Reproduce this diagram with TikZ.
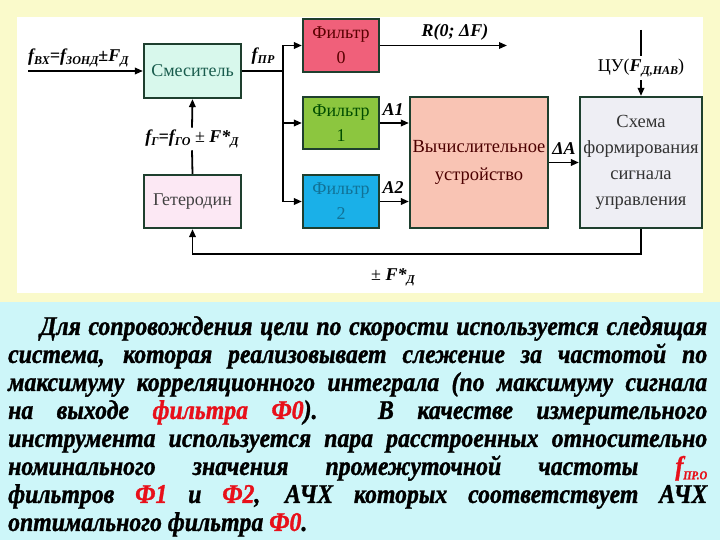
\documentclass[tikz,border=0pt]{standalone}
\usepackage{fontspec}
\setmainfont{Liberation Serif}
\newfontfamily\condbi{Liberation Serif Bold Italic}[FakeStretch=0.88, FakeBold=1.2]
\usetikzlibrary{arrows.meta}
\definecolor{bgyellow}{HTML}{FAFACB}
\definecolor{bgcyan}{HTML}{CDF6F9}
\definecolor{bord}{HTML}{1E3F2E}
\definecolor{cmix}{HTML}{D8F8EC}
\definecolor{cf0}{HTML}{F0607A}
\definecolor{cf1}{HTML}{8CC63F}
\definecolor{cf2}{HTML}{1AB0E8}
\definecolor{ccomp}{HTML}{F9C4B4}
\definecolor{csch}{HTML}{EEEEF4}
\definecolor{chet}{HTML}{FCE8F4}
\definecolor{tred}{HTML}{E8101A}
\newcommand{\sbs}[1]{\raisebox{-0.35ex}{\fontsize{12}{13}\selectfont #1}}
\tikzset{
  blk/.style={draw=bord, line width=2.2pt, inner sep=0pt, align=center,
    font=\fontsize{18}{25}\selectfont},
  conn/.style={line width=1.8pt, black},
  arr/.style={conn, -{Triangle[length=8pt,width=6.5pt]}},
  lbl/.style={inner sep=0pt, font=\fontsize{18}{20}\selectfont\bfseries\itshape},
}
\begin{document}
\begin{tikzpicture}[x=1pt,y=-1pt]
\useasboundingbox (0,0) rectangle (720,540);
\fill[bgyellow] (0,0) rectangle (720,302);
\fill[white] (17,17) rectangle (703,293);
\fill[bgcyan] (0,302) rectangle (720,540);

% blocks
\node[blk, fill=cmix, minimum width=97pt, minimum height=54pt, text=bord!85!cyan] (mix) at (192.5,71) {Смеситель};
\node[blk, fill=chet, minimum width=97pt, minimum height=53pt, text=black!75] (het) at (192.5,201.5) {Гетеродин};
\node[blk, fill=cf0, minimum width=76pt, minimum height=53pt, text=black!65!red] (f0) at (341,45.5) {Фильтр\\0};
\node[blk, fill=cf1, minimum width=76pt, minimum height=52pt, text=black!70!green] (f1) at (341,123) {Фильтр\\1};
\node[blk, fill=cf2, minimum width=76pt, minimum height=53pt, text=black!35!cf2] (f2) at (341,201.5) {Фильтр\\2};
\node[blk, fill=ccomp, minimum width=138pt, minimum height=131pt, text=black!70!red, font=\fontsize{18.5}{28}\selectfont] (comp) at (479,162.5) {Вычислительное\\устройство};
\node[blk, fill=csch, minimum width=122pt, minimum height=131pt, text=black!80, font=\fontsize{18.5}{26}\selectfont] (sch) at (641,162.5) {Схема\\формирования\\сигнала\\управления};

% coordinates
\coordinate (in) at (28,71);
\coordinate (bj) at (283,71);
\coordinate (b1) at (283,123);
\coordinate (rout) at (507,45.5);
\coordinate (cutop) at (641,30);
\coordinate (fbr) at (641,254);
\coordinate (fbl) at (192.5,254);

% labels
\node[lbl, anchor=base west] (lin) at (28,62) {f\sbs{ВХ}=f\sbs{ЗОНД}±F\sbs{Д}};
\node[lbl] (lpr) at (263,56) {f\sbs{ПР}};
\node[lbl] (lr) at (455,32) {R(0; ΔF)};
\node[lbl] (la1) at (393,110) {A1};
\node[lbl] (la2) at (393,188) {A2};
\node[lbl] (lda) at (564,149) {ΔA};
\node[lbl] (lfb) at (393,277) {{\mdseries\upshape ±} F*\sbs{Д}};
\node[lbl, inner sep=2pt] (lfg) at (192,139) {f\sbs{Г}=f\sbs{ГО} {\mdseries\upshape ±} F*\sbs{Д}};
\node[inner sep=3pt, font=\fontsize{18}{20}\selectfont] (cu) at (641,68) {ЦУ(\textbf{\textit{F}}\sbs{\textbf{\textit{Д,НАВ}}})};

% connectors
\draw[arr] (in) -- (mix.west);
\draw[arr] (mix.east) -- (bj) |- (f0.west);
\draw[arr] (bj) |- (f2.west);
\draw[arr] (b1) -- (f1.west);
\draw[arr] (f0.east) -- (rout);
\draw[arr] (f1.east) -- (f1.east -| comp.west);
\draw[arr] (f2.east) -- (f2.east -| comp.west);
\draw[arr] (comp.east) -- (sch.west);
\draw[conn] (cutop) -- (cu.north);
\draw[arr] (cu.south) -- (sch.north);
\draw[arr] (sch.south) -- (fbr) -- (fbl) -- (het.south);
\draw[conn] (het.north) -- (lfg.south);
\draw[arr] (lfg.north) -- (mix.south);

% bottom text
\node[anchor=north west, inner sep=0pt, text width=699pt, align=justify,
  font=\condbi\fontsize{27}{28}\selectfont] (txt) at (8,316) {%
\hspace*{32pt}Для сопровождения цели по скорости используется следящая\linebreak
система, которая реализовывает слежение за частотой по\linebreak
максимуму корреляционного интеграла (по максимуму сигнала\linebreak
на выходе {\color{tred}фильтра} {\color{tred}Ф0}). В качестве измерительного\linebreak
инструмента используется пара расстроенных относительно\linebreak
номинального значения промежуточной частоты {\color{tred}f\sbs{\condbi ПР.О}}\linebreak
фильтров {\color{tred}Ф1} и {\color{tred}Ф2}, АЧХ которых соответствует АЧХ\linebreak
оптимального фильтра {\color{tred}Ф0}.};
\end{tikzpicture}
\end{document}
